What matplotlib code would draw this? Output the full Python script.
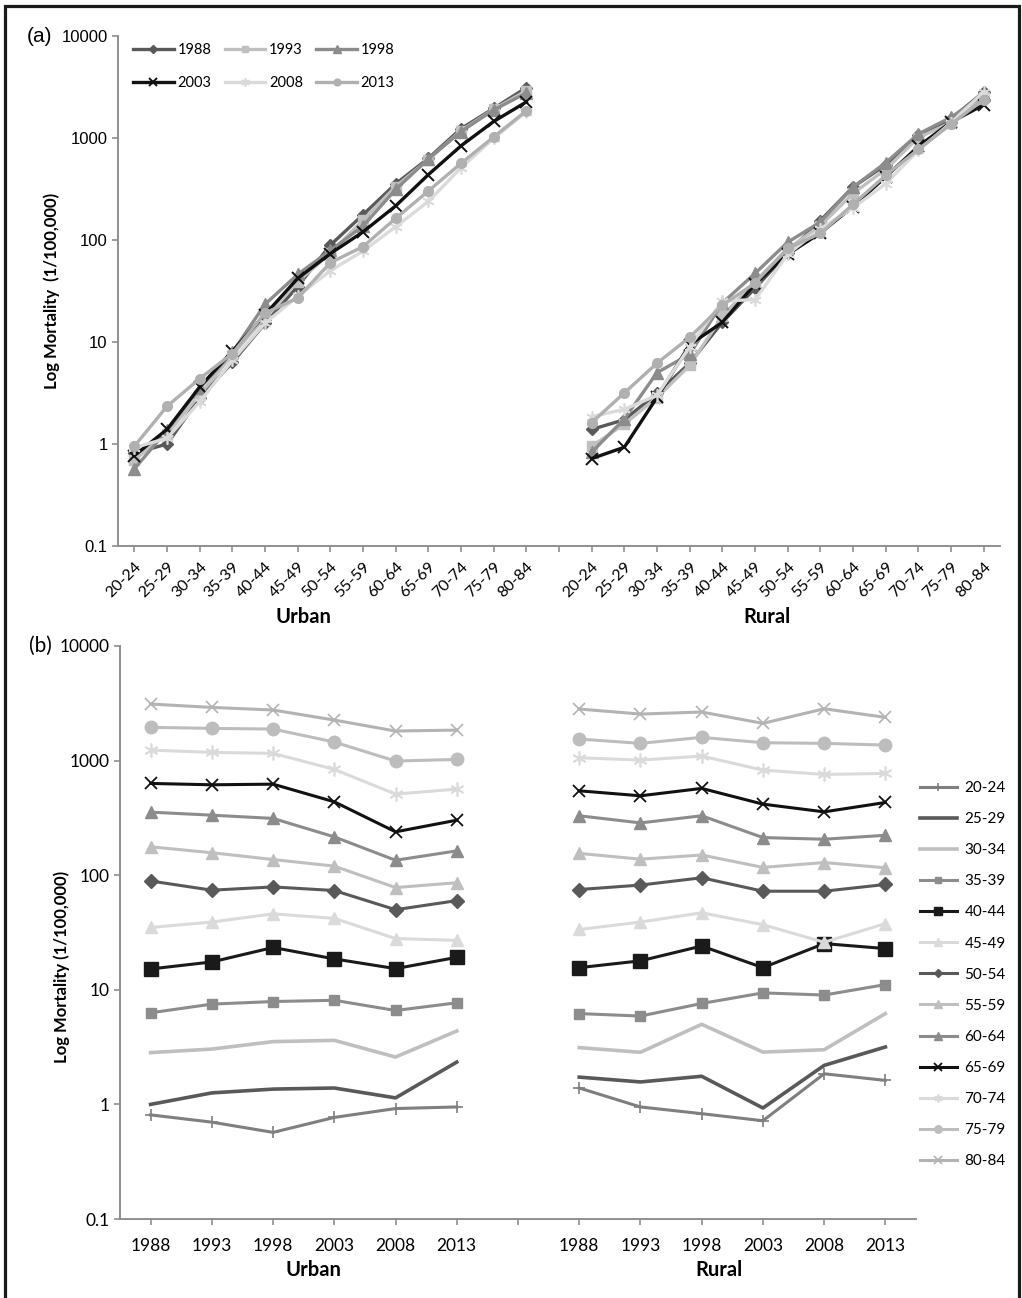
import matplotlib
matplotlib.use("Agg")
import matplotlib.pyplot as plt
import numpy as np
from matplotlib.patches import Rectangle

# age groups (rows) x survey years (columns), deaths per 100,000
age_groups = ['20-24', '25-29', '30-34', '35-39', '40-44', '45-49', '50-54',
              '55-59', '60-64', '65-69', '70-74', '75-79', '80-84']
years = ['1988', '1993', '1998', '2003', '2008', '2013']

urban = [
    [0.81, 0.70, 0.57, 0.77, 0.92, 0.95],
    [1.00, 1.26, 1.36, 1.39, 1.14, 2.34],
    [2.83, 3.04, 3.53, 3.62, 2.59, 4.37],
    [6.3, 7.5, 7.9, 8.1, 6.6, 7.7],
    [15.2, 17.5, 23.4, 18.6, 15.3, 19.2],
    [35, 39, 46, 42, 28, 27],
    [89, 74, 79, 73.5, 50, 60],
    [177, 157, 137, 120, 78, 86],
    [355, 334, 313, 216, 135, 163],
    [632, 615, 623, 437, 239, 302],
    [1235, 1180, 1156, 838, 510, 564],
    [1950, 1911, 1884, 1452, 991, 1024],
    [3115, 2912, 2763, 2258, 1811, 1846],
]

rural = [
    [1.39, 0.95, 0.83, 0.72, 1.85, 1.62],
    [1.73, 1.57, 1.76, 0.93, 2.19, 3.17],
    [3.13, 2.85, 5.0, 2.86, 3.0, 6.2],
    [6.2, 5.9, 7.6, 9.4, 9.0, 11.1],
    [15.6, 17.9, 24.1, 15.6, 25.3, 22.9],
    [33.6, 39, 47, 37, 26, 37.8],
    [75, 82, 95, 72.5, 72.5, 83],
    [155, 138, 150, 117, 129, 116],
    [330, 286, 330, 213, 206, 223],
    [545, 493, 572, 417, 357, 431],
    [1059, 1010, 1095, 826, 757, 773],
    [1541, 1414, 1595, 1432, 1414, 1366],
    [2818, 2548, 2653, 2113, 2833, 2384],
]

ASTER = (6, 2, 0)

# styles for panel (a), one per year
year_styles = [
    dict(color='#595959', marker='D', ms=6, lw=2.4),
    dict(color='#c0c0c0', marker='s', ms=7, lw=2.4),
    dict(color='#8c8c8c', marker='^', ms=8, lw=2.4),
    dict(color='#111111', marker='x', ms=9, lw=2.4, mew=1.4),
    dict(color='#dadada', marker=ASTER, ms=9, lw=2.4, mew=1.2),
    dict(color='#b0b0b0', marker='o', ms=7, lw=2.4),
]

# styles for panel (b), one per age group
age_styles = [
    dict(color='#7f7f7f', marker='+', ms=9, lw=2.2, mew=1.2),
    dict(color='#595959', marker='None', lw=2.6),
    dict(color='#bfbfbf', marker='None', lw=2.6),
    dict(color='#8c8c8c', marker='s', ms=7, lw=2.2),
    dict(color='#1a1a1a', marker='s', ms=9.5, lw=2.2),
    dict(color='#dadada', marker='^', ms=9, lw=2.2),
    dict(color='#595959', marker='D', ms=7, lw=2.2),
    dict(color='#bfbfbf', marker='^', ms=9, lw=2.2),
    dict(color='#8c8c8c', marker='^', ms=9, lw=2.2),
    dict(color='#111111', marker='x', ms=9, lw=2.2, mew=1.3),
    dict(color='#dadada', marker=ASTER, ms=10, lw=2.2, mew=1.2),
    dict(color='#bdbdbd', marker='o', ms=9, lw=2.2),
    dict(color='#b3b3b3', marker='x', ms=9, lw=2.2, mew=1.2),
]

AXC = '#8f8f8f'
CAL = 'Lato'
ARIAL = 'Liberation Sans'


def style_axis(ax):
    ax.set_yscale('log')
    ax.set_ylim(0.1, 10000)
    for s in ['top', 'right']:
        ax.spines[s].set_visible(False)
    for s in ['left', 'bottom']:
        ax.spines[s].set_color(AXC)
        ax.spines[s].set_linewidth(1.4)
    ax.tick_params(which='major', color=AXC, width=1.2, length=4, direction='out')
    ax.tick_params(which='minor', left=False)
    ax.set_yticks([0.1, 1, 10, 100, 1000, 10000])
    ax.set_yticklabels(['0.1', '1', '10', '100', '1000', '10000'])


def main():
    urb = np.array(urban)
    rur = np.array(rural)
    n = len(age_groups)

    fig = plt.figure(figsize=(10.22, 12.98), dpi=100)

    # ---- panel (a): mortality by age group, one line per year
    ax_a = fig.add_axes([118 / 1022, 1 - 546 / 1298, 882 / 1022, 510 / 1298])
    style_axis(ax_a)
    xu = np.arange(n)
    xr = np.arange(n) + n + 1
    handles = []
    for j, yr in enumerate(years):
        st = year_styles[j]
        h, = ax_a.plot(xu, urb[:, j], label=yr, **st)
        ax_a.plot(xr, rur[:, j], **st)
        handles.append(h)
    ax_a.set_xlim(-0.5, 2 * n + 0.5)
    ax_a.set_xticks(np.arange(2 * n + 1))
    ax_a.set_xticklabels(age_groups + [''] + age_groups, rotation=45,
                         ha='right', rotation_mode='anchor', family=CAL, fontsize=11.5)
    ax_a.tick_params(axis='x', pad=6)
    for lab in ax_a.get_yticklabels():
        lab.set_family(ARIAL)
        lab.set_fontsize(12)
    order = [0, 3, 1, 4, 2, 5]
    ax_a.legend([handles[i] for i in order], [years[i] for i in order],
                ncol=3, loc='upper left', frameon=False,
                bbox_to_anchor=(133 / 1022, 1 - 43 / 1298),
                bbox_transform=fig.transFigure, borderpad=0, borderaxespad=0,
                handlelength=2.8, handletextpad=0.25, columnspacing=0.9,
                labelspacing=1.3, markerscale=0.7,
                prop={'family': CAL, 'size': 10.5})

    # ---- panel (b): mortality by year, one line per age group
    ax_b = fig.add_axes([120 / 1022, 1 - 1219 / 1298, 796 / 1022, 573 / 1298])
    style_axis(ax_b)
    m = len(years)
    xu = np.arange(m)
    xr = np.arange(m) + m + 1
    handles = []
    for i, ag in enumerate(age_groups):
        st = age_styles[i]
        h, = ax_b.plot(xu, urb[i], label=ag, **st)
        ax_b.plot(xr, rur[i], **st)
        handles.append(h)
    ax_b.set_xlim(-0.5, 2 * m + 0.5)
    ax_b.set_xticks(np.arange(2 * m + 1))
    ax_b.set_xticklabels(years + [''] + years, family=CAL, fontsize=12.5)
    ax_b.tick_params(axis='x', pad=10)
    for lab in ax_b.get_yticklabels():
        lab.set_family(CAL)
        lab.set_fontsize(12.5)
    fig.legend(handles, age_groups, loc='upper left', frameon=False,
               bbox_to_anchor=(920 / 1022, 1 - 781 / 1298),
               bbox_transform=fig.transFigure, borderpad=0, borderaxespad=0,
               handlelength=2.4, handletextpad=0.5, labelspacing=1.12,
               markerscale=0.6, prop={'family': CAL, 'size': 11})

    # ---- labels
    def ft(x, y, s, **kw):
        fig.text(x / 1022, 1 - y / 1298, s, ha='center', va='center', **kw)

    ft(40, 37, '(a)', family=ARIAL, fontsize=15)
    ft(40, 646, '(b)', family=CAL, fontsize=15)
    ft(52, 291, 'Log Mortality  (1/100,000)', family=CAL, fontsize=12,
       fontweight='bold', rotation=90)
    ft(62, 967, 'Log Mortality (1/100,000)', family=CAL, fontsize=12,
       fontweight='bold', rotation=90)
    ft(303, 617, 'Urban', family=CAL, fontsize=14.5, fontweight='bold')
    ft(767, 617, 'Rural', family=CAL, fontsize=14.5, fontweight='bold')
    ft(313, 1270, 'Urban', family=CAL, fontsize=14.5, fontweight='bold')
    ft(719, 1270, 'Rural', family=CAL, fontsize=14.5, fontweight='bold')

    # outer frame
    fig.add_artist(Rectangle((5 / 1022, -0.01), 1014 / 1022, 1 - 6 / 1298 + 0.01,
                             transform=fig.transFigure, fill=False,
                             edgecolor='#1a1a1a', lw=2.3))

    fig.savefig('out.png', dpi=100)
    plt.close(fig)


if __name__ == "__main__":
    main()
